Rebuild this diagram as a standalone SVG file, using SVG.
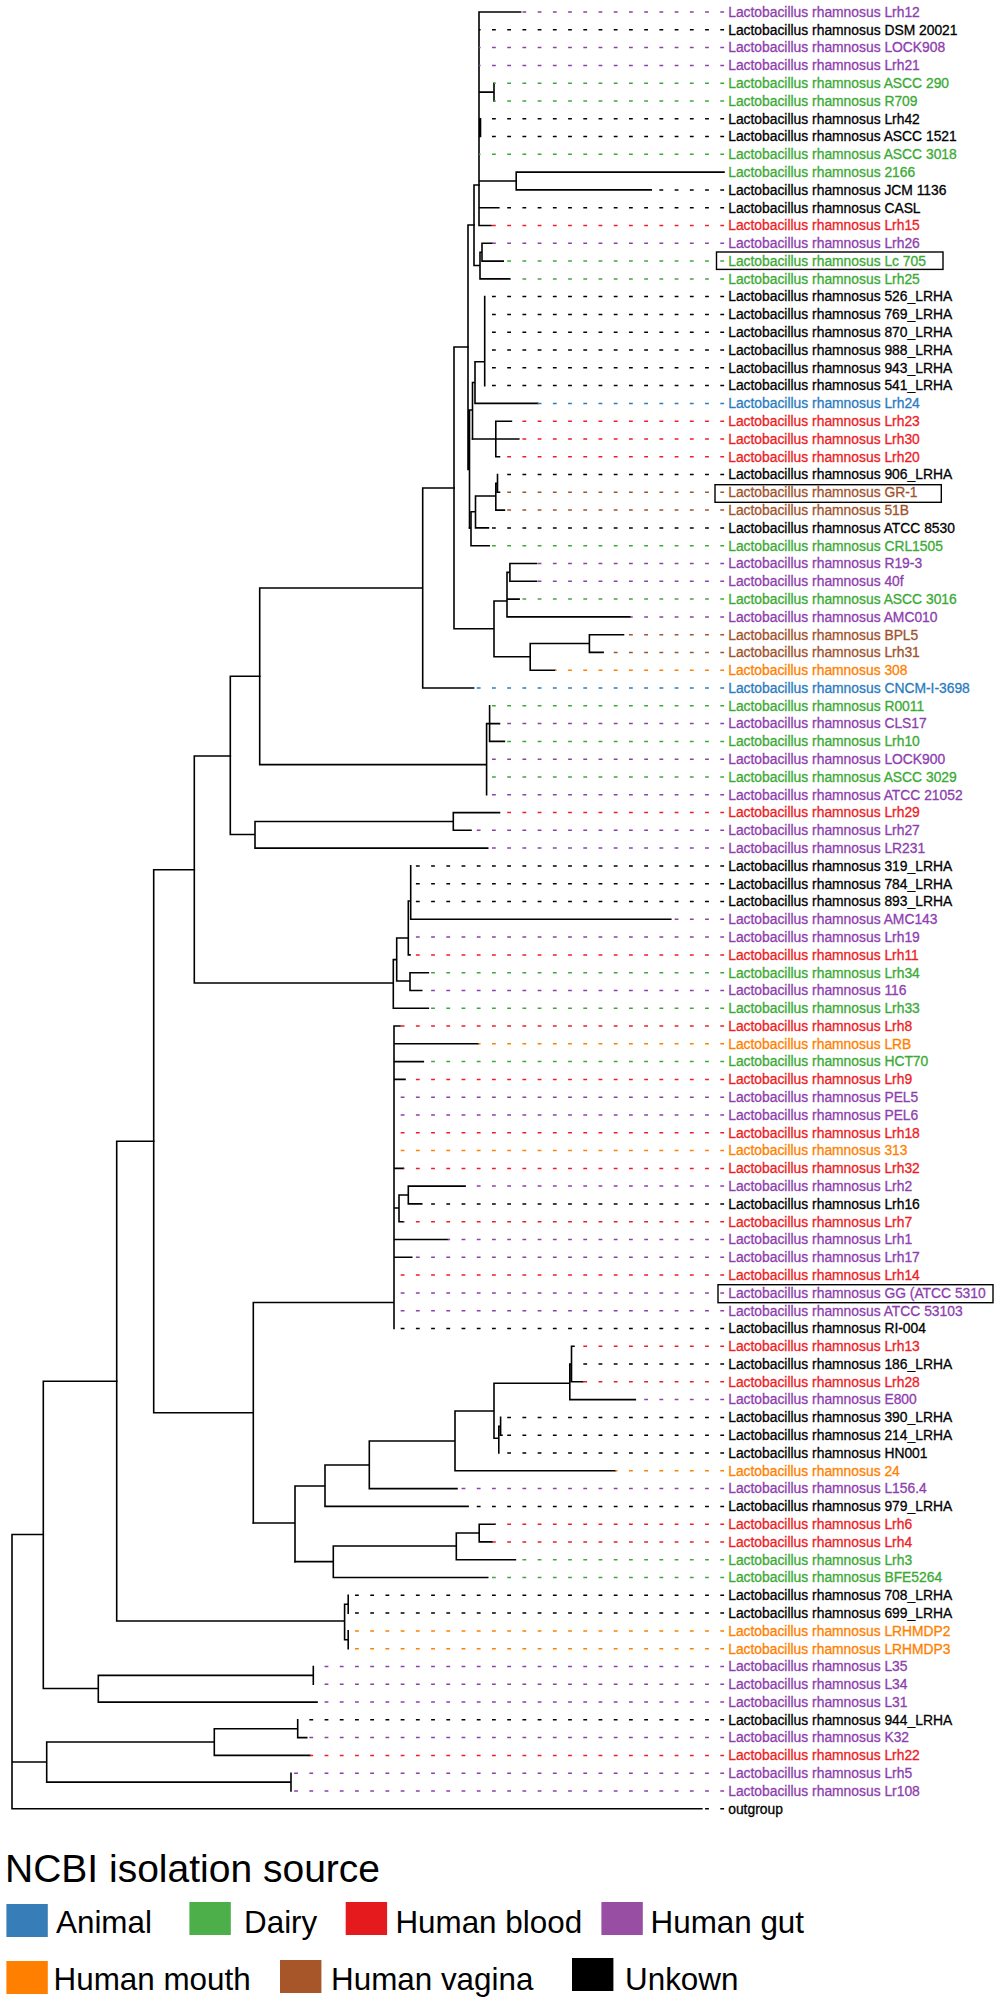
<svg xmlns="http://www.w3.org/2000/svg" width="1000" height="2002" viewBox="0 0 1000 2002">
<style>
text{font-family:"Liberation Sans",Arial,sans-serif;font-size:13.85px}
#leaves text{stroke-width:0.3px}
.p{fill:#8E3EAE;stroke:#8E3EAE}.g{fill:#3BAA35;stroke:#3BAA35}.r{fill:#EE1C25;stroke:#EE1C25}.b{fill:#2B7BC0;stroke:#2B7BC0}.o{fill:#FF7F00;stroke:#FF7F00}.n{fill:#A0522D;stroke:#A0522D}.k{fill:#000;stroke:#000}
.br{fill:none;stroke:#000;stroke-width:1.6;stroke-linecap:square}
.ld{fill:none;stroke-width:1.5;stroke-dasharray:3.8 11.42}
.lp{stroke:#8E3EAE}.lg{stroke:#3BAA35}.lr{stroke:#EE1C25}.lb{stroke:#2B7BC0}.lo{stroke:#FF7F00}.ln{stroke:#A0522D}.lk{stroke:#000}
.box{fill:none;stroke:#000;stroke-width:1.4}
.leg text{font-size:31.4px;fill:#000}
</style>
<rect width="1000" height="2002" fill="#fff"/>
<g id="connectors">
<g id="branches">
<path class="br" d="M479 12V225.5M479 12H520.6M479 92.1H494M494 83.2V101M479 127.6H480.5M480.5 118.7V136.5M479 181H516.2M516.2 172.1V189.9M516.2 172.1H724M516.2 189.9H651.2M479 207.7H498.8M479 225.5H491"/>
<path class="br" d="M474 185V265.5M474 185H479M474 265.5H480M480 252.2V278.9M480 252.2H482M480 278.9H509.9M482 243.3V261.1M482 243.3H492.1M482 261.1H503.2"/>
<path class="br" d="M468 225V469.5M468 225H474M468 469.5H469.5M469.5 410V528M469.5 410H472.5M472.5 382.5V439M472.5 382.5H475M475 361.7V403.4M475 403.4H537.6M475 361.7H484.7M484.7 296.6V385.6"/>
<path class="br" d="M472.5 439H495.8M495.8 421.2V456.8M495.8 421.2H511.4M495.8 439H518.8M495.8 456.8H499.5"/>
<path class="br" d="M469.5 528H471M471 511.8V545.7M471 545.7H489.2M471 511.8H475.5M475.5 496V527.9M475.5 527.9H488.4M475.5 496H495.8M495.8 483.4V510.1M495.8 510.1H504.4M495.8 483.4H497.5M497.5 474.5V492.3M497.5 492.3H499.5"/>
<path class="br" d="M454 347V628.8M454 347H468M454 628.8H494M494 601V656.8M494 601H507M507 572.4V616.9M507 599.1H519.1M507 616.9H630.1M507 572.4H509.9M509.9 563.5V581.3M509.9 563.5H536.5M509.9 581.3H536.5M494 656.8H530.2M530.2 643.5V670.2M530.2 670.2H555M530.2 643.5H589.4M589.4 634.7V652.4M589.4 634.7H623.5M589.4 652.4H603.1"/>
<path class="br" d="M422.7 488V688M422.7 488H454M422.7 688H473.6M259.7 588V764.6M259.7 588H422.7M259.7 764.6H486.6M486.6 723.6V794.8M486.6 723.6H489.6M489.6 705.8V741.4M489.6 723.6H499.5M489.6 741.4H504.4"/>
<path class="br" d="M230.3 676.3V834.5M230.3 676.3H259.7M230.3 834.5H255M255 821.5V848.1M255 848.1H487.7M255 821.5H453.3M453.3 812.6V830.3M453.3 812.6H499.5M453.3 830.3H471"/>
<path class="br" d="M194.3 756V983M194.3 756H230.3M194.3 983H393.3M393.3 959.6V1008.2M393.3 1008.2H428.3M393.3 959.6H396.7M396.7 938V981M396.7 938H408.3M408.3 901V954.9M408.3 954.9H410M408.3 901H410.7M410.7 865.9V919.3M410.7 919.3H670.8M396.7 981H410M410 972.7V990.5M410 972.7H428.3M410 990.5H421.7"/>
<path class="br" d="M153.7 869.7V1412.8M153.7 869.7H194.3M153.7 1412.8H253.3M253.3 1302.5V1523M253.3 1302.5H394M394 1026V1328.5M394 1026H400M394 1043.8H478.3M394 1061.6H423.3M394 1079.4H405M394 1168.4H403.3M394 1239.5H447.7M394 1257.3H411.7M394 1208H399M399 1195V1221.7M399 1221.7H403.3M399 1195H408.3M408.3 1186.1V1203.9M408.3 1186.1H465.1M408.3 1203.9H421.7"/>
<path class="br" d="M253.3 1523H295M295 1486V1561.6M295 1486H325M325 1465V1506.4M325 1506.4H468.1M325 1465H369.3M369.3 1441V1488.6M369.3 1488.6H457M369.3 1441H455M455 1411V1470.8M455 1470.8H615.3M455 1411H494M494 1383.3V1438.3M494 1383.3H569.8M569.8 1364V1399.6M569.8 1399.6H635.3M569.8 1364H571.5M571.5 1346.3V1381.8M571.5 1346.3H574M571.5 1381.8H582.8M494 1438.3H498.8M498.8 1426.3V1453M498.8 1426.3H500.6M500.6 1417.4V1435.2M500.6 1435.2H502"/>
<path class="br" d="M295 1561.6H333.3M333.3 1546V1577.5M333.3 1577.5H487.7M333.3 1546H456.3M456.3 1533V1559.7M456.3 1559.7H515.4M456.3 1533H479.2M479.2 1524.2V1541.9M479.2 1524.2H495.1M479.2 1541.9H492.1"/>
<path class="br" d="M116.7 1141.3V1621M116.7 1141.3H153.7M116.7 1621H344.6M344.6 1604.2V1639.8M344.6 1604.2H348.2M348.2 1595.3V1613.1M344.6 1639.8H348.2M348.2 1630.9V1648.7"/>
<path class="br" d="M43.3 1381.2V1688.5M43.3 1381.2H116.7M43.3 1688.5H98.3M98.3 1675.4V1702.1M98.3 1675.4H313.3M98.3 1702.1H317M313.3 1666.5V1684.3"/>
<path class="br" d="M12 1534.5V1808.8M12 1534.5H43.3M12 1762H46.7M12 1808.8H701.8M46.7 1742V1782.1M46.7 1742H214.3M46.7 1782.1H291M214.3 1728.7V1755.4M214.3 1728.7H297.7M214.3 1755.4H309.8M297.7 1719.8V1737.6M297.7 1737.6H306.7M291 1773.2V1791"/>
</g>
<g id="leaders">
<path class="ld lp" d="M724.1 12H520.6"/>
<path class="ld lk" d="M724.1 29.8H479"/>
<path class="ld lp" d="M724.1 47.6H479"/>
<path class="ld lp" d="M724.1 65.4H479"/>
<path class="ld lg" d="M724.1 83.2H494"/>
<path class="ld lg" d="M724.1 101H494"/>
<path class="ld lk" d="M724.1 118.7H480.5"/>
<path class="ld lk" d="M724.1 136.5H480.5"/>
<path class="ld lg" d="M724.1 154.3H479"/>
<path class="ld lk" d="M724.1 189.9H651.2"/>
<path class="ld lk" d="M724.1 207.7H498.8"/>
<path class="ld lr" d="M724.1 225.5H491"/>
<path class="ld lp" d="M724.1 243.3H492.1"/>
<path class="ld lg" d="M724.1 261.1H503.2"/>
<path class="ld lg" d="M724.1 278.9H509.9"/>
<path class="ld lk" d="M724.1 296.6H484.7"/>
<path class="ld lk" d="M724.1 314.4H484.7"/>
<path class="ld lk" d="M724.1 332.2H484.7"/>
<path class="ld lk" d="M724.1 350H484.7"/>
<path class="ld lk" d="M724.1 367.8H484.7"/>
<path class="ld lk" d="M724.1 385.6H484.7"/>
<path class="ld lb" d="M724.1 403.4H537.6"/>
<path class="ld lr" d="M724.1 421.2H511.4"/>
<path class="ld lr" d="M724.1 439H518.8"/>
<path class="ld lr" d="M724.1 456.8H499.5"/>
<path class="ld lk" d="M724.1 474.5H497.5"/>
<path class="ld ln" d="M724.1 492.3H499.5"/>
<path class="ld ln" d="M724.1 510.1H504.4"/>
<path class="ld lk" d="M724.1 527.9H488.4"/>
<path class="ld lg" d="M724.1 545.7H489.2"/>
<path class="ld lp" d="M724.1 563.5H536.5"/>
<path class="ld lp" d="M724.1 581.3H536.5"/>
<path class="ld lg" d="M724.1 599.1H519.1"/>
<path class="ld lp" d="M724.1 616.9H630.1"/>
<path class="ld ln" d="M724.1 634.7H623.5"/>
<path class="ld ln" d="M724.1 652.4H603.1"/>
<path class="ld lo" d="M724.1 670.2H555"/>
<path class="ld lb" d="M724.1 688H473.6"/>
<path class="ld lg" d="M724.1 705.8H489.6"/>
<path class="ld lp" d="M724.1 723.6H499.5"/>
<path class="ld lg" d="M724.1 741.4H504.4"/>
<path class="ld lp" d="M724.1 759.2H486.6"/>
<path class="ld lg" d="M724.1 777H486.6"/>
<path class="ld lp" d="M724.1 794.8H486.6"/>
<path class="ld lr" d="M724.1 812.6H499.5"/>
<path class="ld lp" d="M724.1 830.3H471"/>
<path class="ld lp" d="M724.1 848.1H487.7"/>
<path class="ld lk" d="M724.1 865.9H410.7"/>
<path class="ld lk" d="M724.1 883.7H410.7"/>
<path class="ld lk" d="M724.1 901.5H410.7"/>
<path class="ld lp" d="M724.1 919.3H670.8"/>
<path class="ld lp" d="M724.1 937.1H408.3"/>
<path class="ld lr" d="M724.1 954.9H410"/>
<path class="ld lg" d="M724.1 972.7H428.3"/>
<path class="ld lp" d="M724.1 990.5H421.7"/>
<path class="ld lg" d="M724.1 1008.2H428.3"/>
<path class="ld lr" d="M724.1 1026H400"/>
<path class="ld lo" d="M724.1 1043.8H478.3"/>
<path class="ld lg" d="M724.1 1061.6H423.3"/>
<path class="ld lr" d="M724.1 1079.4H405"/>
<path class="ld lp" d="M724.1 1097.2H394"/>
<path class="ld lp" d="M724.1 1115H394"/>
<path class="ld lr" d="M724.1 1132.8H394"/>
<path class="ld lo" d="M724.1 1150.6H394"/>
<path class="ld lr" d="M724.1 1168.4H403.3"/>
<path class="ld lp" d="M724.1 1186.1H465.1"/>
<path class="ld lk" d="M724.1 1203.9H421.7"/>
<path class="ld lr" d="M724.1 1221.7H403.3"/>
<path class="ld lp" d="M724.1 1239.5H447.7"/>
<path class="ld lp" d="M724.1 1257.3H411.7"/>
<path class="ld lr" d="M724.1 1275.1H394"/>
<path class="ld lp" d="M724.1 1292.9H394"/>
<path class="ld lp" d="M724.1 1310.7H394"/>
<path class="ld lk" d="M724.1 1328.5H394"/>
<path class="ld lr" d="M724.1 1346.3H574"/>
<path class="ld lk" d="M724.1 1364H571.5"/>
<path class="ld lr" d="M724.1 1381.8H582.8"/>
<path class="ld lp" d="M724.1 1399.6H635.3"/>
<path class="ld lk" d="M724.1 1417.4H500.6"/>
<path class="ld lk" d="M724.1 1435.2H502"/>
<path class="ld lk" d="M724.1 1453H498.8"/>
<path class="ld lo" d="M724.1 1470.8H615.3"/>
<path class="ld lp" d="M724.1 1488.6H457"/>
<path class="ld lk" d="M724.1 1506.4H468.1"/>
<path class="ld lr" d="M724.1 1524.2H495.1"/>
<path class="ld lr" d="M724.1 1541.9H492.1"/>
<path class="ld lg" d="M724.1 1559.7H515.4"/>
<path class="ld lg" d="M724.1 1577.5H487.7"/>
<path class="ld lk" d="M724.1 1595.3H348.2"/>
<path class="ld lk" d="M724.1 1613.1H348.2"/>
<path class="ld lo" d="M724.1 1630.9H348.2"/>
<path class="ld lo" d="M724.1 1648.7H348.2"/>
<path class="ld lp" d="M724.1 1666.5H313.3"/>
<path class="ld lp" d="M724.1 1684.3H313.3"/>
<path class="ld lp" d="M724.1 1702.1H317"/>
<path class="ld lk" d="M724.1 1719.8H297.7"/>
<path class="ld lp" d="M724.1 1737.6H306.7"/>
<path class="ld lr" d="M724.1 1755.4H309.8"/>
<path class="ld lp" d="M724.1 1773.2H291"/>
<path class="ld lp" d="M724.1 1791H291"/>
<path class="ld lk" d="M724.1 1808.8H701.8"/>
</g>
</g>
<g id="leaves">
<g id="n0" class="p"><text x="728.2" y="16.8">Lactobacillus rhamnosus Lrh12</text></g>
<g id="n1" class="k"><text x="728.2" y="34.6">Lactobacillus rhamnosus DSM 20021</text></g>
<g id="n2" class="p"><text x="728.2" y="52.4">Lactobacillus rhamnosus LOCK908</text></g>
<g id="n3" class="p"><text x="728.2" y="70.2">Lactobacillus rhamnosus Lrh21</text></g>
<g id="n4" class="g"><text x="728.2" y="88">Lactobacillus rhamnosus ASCC 290</text></g>
<g id="n5" class="g"><text x="728.2" y="105.8">Lactobacillus rhamnosus R709</text></g>
<g id="n6" class="k"><text x="728.2" y="123.5">Lactobacillus rhamnosus Lrh42</text></g>
<g id="n7" class="k"><text x="728.2" y="141.3">Lactobacillus rhamnosus ASCC 1521</text></g>
<g id="n8" class="g"><text x="728.2" y="159.1">Lactobacillus rhamnosus ASCC 3018</text></g>
<g id="n9" class="g"><text x="728.2" y="176.9">Lactobacillus rhamnosus 2166</text></g>
<g id="n10" class="k"><text x="728.2" y="194.7">Lactobacillus rhamnosus JCM 1136</text></g>
<g id="n11" class="k"><text x="728.2" y="212.5">Lactobacillus rhamnosus CASL</text></g>
<g id="n12" class="r"><text x="728.2" y="230.3">Lactobacillus rhamnosus Lrh15</text></g>
<g id="n13" class="p"><text x="728.2" y="248.1">Lactobacillus rhamnosus Lrh26</text></g>
<g id="n14" class="g"><rect class="box" x="716.5" y="252" width="226.5" height="17.4"/><text x="728.2" y="265.9">Lactobacillus rhamnosus Lc 705</text></g>
<g id="n15" class="g"><text x="728.2" y="283.7">Lactobacillus rhamnosus Lrh25</text></g>
<g id="n16" class="k"><text x="728.2" y="301.4">Lactobacillus rhamnosus 526_LRHA</text></g>
<g id="n17" class="k"><text x="728.2" y="319.2">Lactobacillus rhamnosus 769_LRHA</text></g>
<g id="n18" class="k"><text x="728.2" y="337">Lactobacillus rhamnosus 870_LRHA</text></g>
<g id="n19" class="k"><text x="728.2" y="354.8">Lactobacillus rhamnosus 988_LRHA</text></g>
<g id="n20" class="k"><text x="728.2" y="372.6">Lactobacillus rhamnosus 943_LRHA</text></g>
<g id="n21" class="k"><text x="728.2" y="390.4">Lactobacillus rhamnosus 541_LRHA</text></g>
<g id="n22" class="b"><text x="728.2" y="408.2">Lactobacillus rhamnosus Lrh24</text></g>
<g id="n23" class="r"><text x="728.2" y="426">Lactobacillus rhamnosus Lrh23</text></g>
<g id="n24" class="r"><text x="728.2" y="443.8">Lactobacillus rhamnosus Lrh30</text></g>
<g id="n25" class="r"><text x="728.2" y="461.6">Lactobacillus rhamnosus Lrh20</text></g>
<g id="n26" class="k"><text x="728.2" y="479.3">Lactobacillus rhamnosus 906_LRHA</text></g>
<g id="n27" class="n"><rect class="box" x="715" y="484.7" width="226.3" height="17.6"/><text x="728.2" y="497.1">Lactobacillus rhamnosus GR-1</text></g>
<g id="n28" class="n"><text x="728.2" y="514.9">Lactobacillus rhamnosus 51B</text></g>
<g id="n29" class="k"><text x="728.2" y="532.7">Lactobacillus rhamnosus ATCC 8530</text></g>
<g id="n30" class="g"><text x="728.2" y="550.5">Lactobacillus rhamnosus CRL1505</text></g>
<g id="n31" class="p"><text x="728.2" y="568.3">Lactobacillus rhamnosus R19-3</text></g>
<g id="n32" class="p"><text x="728.2" y="586.1">Lactobacillus rhamnosus 40f</text></g>
<g id="n33" class="g"><text x="728.2" y="603.9">Lactobacillus rhamnosus ASCC 3016</text></g>
<g id="n34" class="p"><text x="728.2" y="621.7">Lactobacillus rhamnosus AMC010</text></g>
<g id="n35" class="n"><text x="728.2" y="639.5">Lactobacillus rhamnosus BPL5</text></g>
<g id="n36" class="n"><text x="728.2" y="657.2">Lactobacillus rhamnosus Lrh31</text></g>
<g id="n37" class="o"><text x="728.2" y="675">Lactobacillus rhamnosus 308</text></g>
<g id="n38" class="b"><text x="728.2" y="692.8">Lactobacillus rhamnosus CNCM-I-3698</text></g>
<g id="n39" class="g"><text x="728.2" y="710.6">Lactobacillus rhamnosus R0011</text></g>
<g id="n40" class="p"><text x="728.2" y="728.4">Lactobacillus rhamnosus CLS17</text></g>
<g id="n41" class="g"><text x="728.2" y="746.2">Lactobacillus rhamnosus Lrh10</text></g>
<g id="n42" class="p"><text x="728.2" y="764">Lactobacillus rhamnosus LOCK900</text></g>
<g id="n43" class="g"><text x="728.2" y="781.8">Lactobacillus rhamnosus ASCC 3029</text></g>
<g id="n44" class="p"><text x="728.2" y="799.6">Lactobacillus rhamnosus ATCC 21052</text></g>
<g id="n45" class="r"><text x="728.2" y="817.4">Lactobacillus rhamnosus Lrh29</text></g>
<g id="n46" class="p"><text x="728.2" y="835.1">Lactobacillus rhamnosus Lrh27</text></g>
<g id="n47" class="p"><text x="728.2" y="852.9">Lactobacillus rhamnosus LR231</text></g>
<g id="n48" class="k"><text x="728.2" y="870.7">Lactobacillus rhamnosus 319_LRHA</text></g>
<g id="n49" class="k"><text x="728.2" y="888.5">Lactobacillus rhamnosus 784_LRHA</text></g>
<g id="n50" class="k"><text x="728.2" y="906.3">Lactobacillus rhamnosus 893_LRHA</text></g>
<g id="n51" class="p"><text x="728.2" y="924.1">Lactobacillus rhamnosus AMC143</text></g>
<g id="n52" class="p"><text x="728.2" y="941.9">Lactobacillus rhamnosus Lrh19</text></g>
<g id="n53" class="r"><text x="728.2" y="959.7">Lactobacillus rhamnosus Lrh11</text></g>
<g id="n54" class="g"><text x="728.2" y="977.5">Lactobacillus rhamnosus Lrh34</text></g>
<g id="n55" class="p"><text x="728.2" y="995.3">Lactobacillus rhamnosus 116</text></g>
<g id="n56" class="g"><text x="728.2" y="1013">Lactobacillus rhamnosus Lrh33</text></g>
<g id="n57" class="r"><text x="728.2" y="1030.8">Lactobacillus rhamnosus Lrh8</text></g>
<g id="n58" class="o"><text x="728.2" y="1048.6">Lactobacillus rhamnosus LRB</text></g>
<g id="n59" class="g"><text x="728.2" y="1066.4">Lactobacillus rhamnosus HCT70</text></g>
<g id="n60" class="r"><text x="728.2" y="1084.2">Lactobacillus rhamnosus Lrh9</text></g>
<g id="n61" class="p"><text x="728.2" y="1102">Lactobacillus rhamnosus PEL5</text></g>
<g id="n62" class="p"><text x="728.2" y="1119.8">Lactobacillus rhamnosus PEL6</text></g>
<g id="n63" class="r"><text x="728.2" y="1137.6">Lactobacillus rhamnosus Lrh18</text></g>
<g id="n64" class="o"><text x="728.2" y="1155.4">Lactobacillus rhamnosus 313</text></g>
<g id="n65" class="r"><text x="728.2" y="1173.2">Lactobacillus rhamnosus Lrh32</text></g>
<g id="n66" class="p"><text x="728.2" y="1190.9">Lactobacillus rhamnosus Lrh2</text></g>
<g id="n67" class="k"><text x="728.2" y="1208.7">Lactobacillus rhamnosus Lrh16</text></g>
<g id="n68" class="r"><text x="728.2" y="1226.5">Lactobacillus rhamnosus Lrh7</text></g>
<g id="n69" class="p"><text x="728.2" y="1244.3">Lactobacillus rhamnosus Lrh1</text></g>
<g id="n70" class="p"><text x="728.2" y="1262.1">Lactobacillus rhamnosus Lrh17</text></g>
<g id="n71" class="r"><text x="728.2" y="1279.9">Lactobacillus rhamnosus Lrh14</text></g>
<g id="n72" class="p"><rect class="box" x="718" y="1284.7" width="275" height="18"/><text x="728.2" y="1297.7">Lactobacillus rhamnosus GG (ATCC 5310</text></g>
<g id="n73" class="p"><text x="728.2" y="1315.5">Lactobacillus rhamnosus ATCC 53103</text></g>
<g id="n74" class="k"><text x="728.2" y="1333.3">Lactobacillus rhamnosus RI-004</text></g>
<g id="n75" class="r"><text x="728.2" y="1351.1">Lactobacillus rhamnosus Lrh13</text></g>
<g id="n76" class="k"><text x="728.2" y="1368.8">Lactobacillus rhamnosus 186_LRHA</text></g>
<g id="n77" class="r"><text x="728.2" y="1386.6">Lactobacillus rhamnosus Lrh28</text></g>
<g id="n78" class="p"><text x="728.2" y="1404.4">Lactobacillus rhamnosus E800</text></g>
<g id="n79" class="k"><text x="728.2" y="1422.2">Lactobacillus rhamnosus 390_LRHA</text></g>
<g id="n80" class="k"><text x="728.2" y="1440">Lactobacillus rhamnosus 214_LRHA</text></g>
<g id="n81" class="k"><text x="728.2" y="1457.8">Lactobacillus rhamnosus HN001</text></g>
<g id="n82" class="o"><text x="728.2" y="1475.6">Lactobacillus rhamnosus 24</text></g>
<g id="n83" class="p"><text x="728.2" y="1493.4">Lactobacillus rhamnosus L156.4</text></g>
<g id="n84" class="k"><text x="728.2" y="1511.2">Lactobacillus rhamnosus 979_LRHA</text></g>
<g id="n85" class="r"><text x="728.2" y="1529">Lactobacillus rhamnosus Lrh6</text></g>
<g id="n86" class="r"><text x="728.2" y="1546.7">Lactobacillus rhamnosus Lrh4</text></g>
<g id="n87" class="g"><text x="728.2" y="1564.5">Lactobacillus rhamnosus Lrh3</text></g>
<g id="n88" class="g"><text x="728.2" y="1582.3">Lactobacillus rhamnosus BFE5264</text></g>
<g id="n89" class="k"><text x="728.2" y="1600.1">Lactobacillus rhamnosus 708_LRHA</text></g>
<g id="n90" class="k"><text x="728.2" y="1617.9">Lactobacillus rhamnosus 699_LRHA</text></g>
<g id="n91" class="o"><text x="728.2" y="1635.7">Lactobacillus rhamnosus LRHMDP2</text></g>
<g id="n92" class="o"><text x="728.2" y="1653.5">Lactobacillus rhamnosus LRHMDP3</text></g>
<g id="n93" class="p"><text x="728.2" y="1671.3">Lactobacillus rhamnosus L35</text></g>
<g id="n94" class="p"><text x="728.2" y="1689.1">Lactobacillus rhamnosus L34</text></g>
<g id="n95" class="p"><text x="728.2" y="1706.9">Lactobacillus rhamnosus L31</text></g>
<g id="n96" class="k"><text x="728.2" y="1724.6">Lactobacillus rhamnosus 944_LRHA</text></g>
<g id="n97" class="p"><text x="728.2" y="1742.4">Lactobacillus rhamnosus K32</text></g>
<g id="n98" class="r"><text x="728.2" y="1760.2">Lactobacillus rhamnosus Lrh22</text></g>
<g id="n99" class="p"><text x="728.2" y="1778">Lactobacillus rhamnosus Lrh5</text></g>
<g id="n100" class="p"><text x="728.2" y="1795.8">Lactobacillus rhamnosus Lr108</text></g>
<g id="n101" class="k"><text x="728.2" y="1813.6">outgroup</text></g>
</g>
<g id="legend" class="leg">
<text x="5" y="1882" style="font-size:39px">NCBI isolation source</text>
<g id="leg-animal"><rect x="6.4" y="1904" width="41.4" height="33" fill="#377EB8"/><text x="56" y="1933">Animal</text></g>
<g id="leg-dairy"><rect x="189.4" y="1902" width="41.4" height="33" fill="#4DAF4A"/><text x="244" y="1933">Dairy</text></g>
<g id="leg-blood"><rect x="345.7" y="1902" width="41.4" height="33" fill="#E41A1C"/><text x="395.4" y="1933">Human blood</text></g>
<g id="leg-gut"><rect x="601.4" y="1902" width="41.4" height="33" fill="#984EA3"/><text x="650.5" y="1933">Human gut</text></g>
<g id="leg-mouth"><rect x="6.4" y="1961" width="41.4" height="33" fill="#FF7F00"/><text x="53.5" y="1990">Human mouth</text></g>
<g id="leg-vagina"><rect x="280" y="1960" width="41.4" height="33" fill="#A65628"/><text x="331" y="1990">Human vagina</text></g>
<g id="leg-unknown"><rect x="572" y="1958" width="41.4" height="33" fill="#000"/><text x="625" y="1990">Unkown</text></g>
</g>
</svg>
